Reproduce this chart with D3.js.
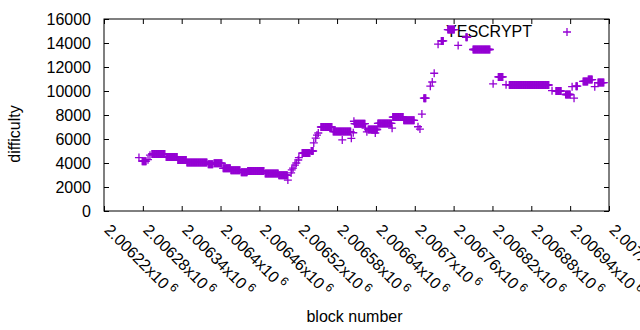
<!DOCTYPE html>
<html>
<head>
<meta charset="utf-8">
<script src="https://cdn.jsdelivr.net/npm/d3@7"></script>
<style>
    body { margin: 0; background: #fff; }
    svg { font-family: "Liberation Sans", Arial, sans-serif; }
</style>
</head>
<body>
<script>
// difficulty held over runs of blocks: first block, last block, difficulty
var runFrom = [2006274, 2006279, 2006288, 2006291, 2006294, 2006316, 2006334, 2006348, 2006381, 2006390,
    2006404, 2006416, 2006432, 2006442, 2006469, 2006490, 2006504, 2006509, 2006510, 2006512,
    2006515, 2006517, 2006520, 2006521, 2006526, 2006540, 2006544, 2006547, 2006549, 2006551,
    2006555, 2006574, 2006588, 2006602, 2006605, 2006606, 2006607, 2006624, 2006626, 2006628,
    2006639, 2006643, 2006665, 2006666, 2006683, 2006705, 2006708, 2006711, 2006714, 2006724,
    2006727, 2006730, 2006736, 2006741, 2006751, 2006767, 2006779, 2006790, 2006821, 2006829,
    2006841, 2006846, 2006912, 2006918, 2006933, 2006943, 2006946, 2006949, 2006960, 2006968,
    2006978, 2006983];
var runTo = [2006274, 2006285, 2006288, 2006291, 2006314, 2006333, 2006347, 2006379, 2006388, 2006402,
    2006415, 2006430, 2006441, 2006467, 2006489, 2006503, 2006504, 2006509, 2006510, 2006512,
    2006515, 2006517, 2006520, 2006521, 2006538, 2006543, 2006544, 2006547, 2006549, 2006551,
    2006572, 2006601, 2006588, 2006602, 2006605, 2006606, 2006623, 2006624, 2006626, 2006642,
    2006639, 2006664, 2006665, 2006682, 2006699, 2006705, 2006708, 2006711, 2006717, 2006724,
    2006727, 2006730, 2006736, 2006744, 2006761, 2006767, 2006781, 2006816, 2006821, 2006836,
    2006841, 2006907, 2006912, 2006926, 2006940, 2006943, 2006946, 2006951, 2006967, 2006974,
    2006978, 2006992];
var runDiff = [4450, 4150, 4280, 4650, 4750, 4500, 4250, 4050, 3900, 3980,
    3560, 3400, 3220, 3330, 3130, 2980, 2580, 3170, 3420, 3580,
    3830, 4000, 4250, 4450, 4830, 5000, 5670, 6080, 6330, 6500,
    7000, 6620, 5920, 6060, 6520, 7480, 7280, 6900, 6600, 6790,
    6500, 7300, 6900, 7830, 7560, 7020, 6830, 8080, 9400, 10400,
    10750, 11480, 13900, 14170, 15120, 13800, 14480, 13460, 10600, 11170,
    10520, 10500, 10030, 10000, 9710, 10360, 9400, 10400, 10800, 10950,
    10360, 10700];

var xTicks = [2006220, 2006280, 2006340, 2006400, 2006460, 2006520, 2006580,
    2006640, 2006700, 2006760, 2006820, 2006880, 2006940, 2007000];
var yTicks = [0, 2000, 4000, 6000, 8000, 10000, 12000, 14000, 16000];
var seriesName = "YESCRYPT";

var color = "#9400d3";

var margin = { top: 19, right: 31, bottom: 119, left: 104 },
    width = 640 - margin.left - margin.right,
    height = 330 - margin.top - margin.bottom;

var svg = d3.select("body")
    .append("svg")
    .attr("width", 640)
    .attr("height", 330)
    .append("g")
    .attr("transform", "translate(" + margin.left + "," + margin.top + ")");

var x = d3.scaleLinear().domain([2006220, 2007000]).range([0, width]);
var y = d3.scaleLinear().domain([0, 16000]).range([height, 0]);

// one point per block
var data = [];
for (var i = 0; i < runFrom.length; i++) {
    for (var b = runFrom[i]; b <= runTo[i]; b++) {
        data.push({ block: b, difficulty: runDiff[i] });
    }
}

var fmt = d3.format(".6~g");

// bottom axis, ticks pointing in
var xAxis = svg.append("g")
    .attr("transform", "translate(0," + height + ")")
    .call(d3.axisBottom(x).tickValues(xTicks).tickSize(-5).tickFormat(""));
xAxis.selectAll(".tick").append("text")
    .attr("fill", "#000")
    .attr("text-anchor", "start")
    .attr("transform", "translate(-1,20) rotate(45)")
    .style("font-size", "16px")
    .each(function (d) {
        var t = d3.select(this);
        t.append("tspan").text(fmt(d / 1e6) + "x10");
        t.append("tspan").attr("dx", 3).attr("dy", -6).style("font-size", "12px").text("6");
    });

svg.append("g")
    .call(d3.axisTop(x).tickValues(xTicks).tickSize(-5).tickFormat(""));

svg.append("g")
    .call(d3.axisLeft(y).tickValues(yTicks).tickSize(-5).tickPadding(13).tickFormat(d3.format("d")))
    .selectAll("text")
    .style("font-size", "16px");

svg.append("g")
    .attr("transform", "translate(" + width + ",0)")
    .call(d3.axisRight(y).tickValues(yTicks).tickSize(-5).tickFormat(""));

svg.selectAll(".domain").remove();
svg.selectAll(".tick line").attr("stroke", "#000");

svg.append("rect")
    .attr("width", width)
    .attr("height", height)
    .attr("fill", "none")
    .attr("stroke", "#000");

// key text sits under the points
svg.append("text")
    .attr("x", 532 - margin.left)
    .attr("y", 37 - margin.top)
    .attr("text-anchor", "end")
    .style("font-size", "16px")
    .text(seriesName);

var cross = "M-4,0H4M0,-4V4";

svg.append("g")
    .selectAll("path")
    .data(data)
    .enter()
    .append("path")
    .attr("d", cross)
    .attr("transform", function (d) { return "translate(" + x(d.block) + "," + y(d.difficulty) + ")"; })
    .attr("fill", "none")
    .attr("stroke", color)
    .attr("stroke-width", 1.3);

// key sample
svg.append("path")
    .attr("d", cross)
    .attr("transform", "translate(" + (567 - margin.left) + "," + (32 - margin.top) + ")")
    .attr("fill", "none")
    .attr("stroke", color)
    .attr("stroke-width", 1.3);

// Y label
svg.append("text")
    .attr("text-anchor", "middle")
    .attr("transform", "translate(" + (19.5 - margin.left) + ",115)rotate(-90)")
    .style("font-size", "16px")
    .text("difficulty");

// X label
svg.append("text")
    .attr("x", 354.5 - margin.left)
    .attr("y", 322 - margin.top)
    .attr("text-anchor", "middle")
    .style("font-size", "16px")
    .text("block number");
</script>
</body>
</html>
